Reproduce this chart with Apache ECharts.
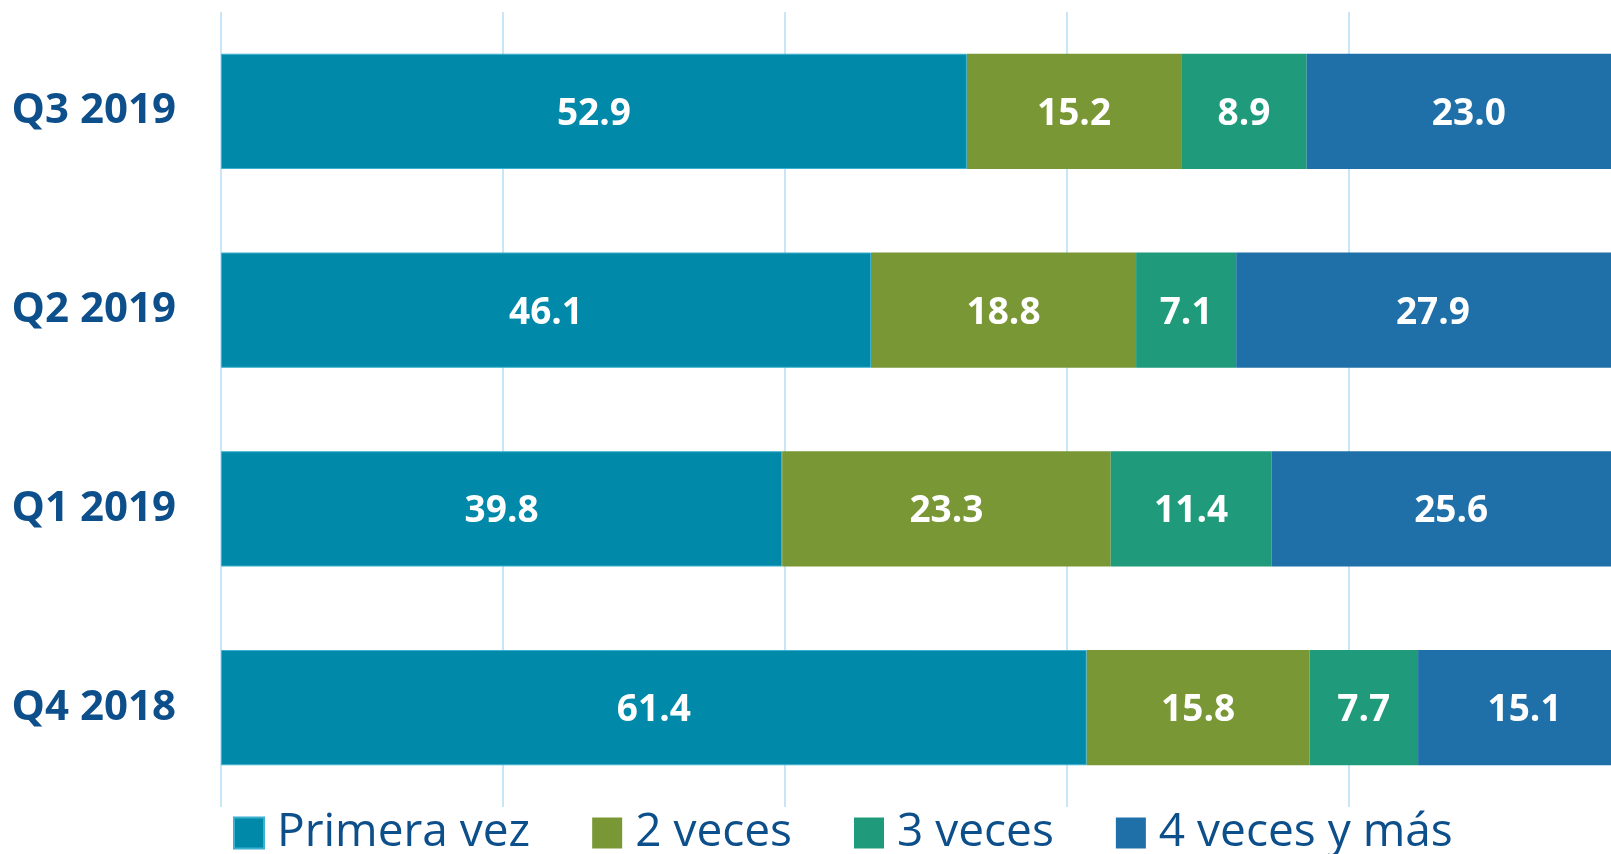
<!DOCTYPE html>
<html>
<head>
<meta charset="utf-8">
<script src="https://cdn.jsdelivr.net/npm/echarts@6/dist/echarts.min.js"></script>
<style>
html, body { margin: 0; padding: 0; background: #fff; }
#main { width: 1611px; height: 854px; }
</style>
</head>
<body>
<div id="main"></div>
<script>
var categories = ['Q3 2019', 'Q2 2019', 'Q1 2019', 'Q4 2018'];
var seriesNames = ['Primera vez', '2 veces', '3 veces', '4 veces y más'];
var primeraVez = [52.9, 46.1, 39.8, 61.4];
var dosVeces = [15.2, 18.8, 23.3, 15.8];
var tresVeces = [8.9, 7.1, 11.4, 7.7];
var cuatroVeces = [23.0, 27.9, 25.6, 15.1];
var colors = ['#0089a8', '#7a9735', '#1f9b7b', '#1f70a8'];

var values = [primeraVez, dosVeces, tresVeces, cuatroVeces];
var series = [];
for (var i = 0; i < seriesNames.length; i++) {
	series.push({
		name: seriesNames[i],
		type: 'bar',
		stack: 'total',
		barWidth: '58%',
		data: values[i],
		itemStyle: {
			color: colors[i],
			borderColor: i == 0 ? '#3cb0cf' : colors[i],
			borderWidth: i == 0 ? 1 : 0
		},
		label: {
			show: true,
			position: 'inside',
			offset: [0, 3],
			color: '#fff',
			fontFamily: 'Open Sans',
			fontWeight: 'bold',
			fontSize: 37,
			formatter: function (p) {
				return p.value.toFixed(1);
			}
		}
	});
}

var chart = echarts.init(document.getElementById('main'), null, { renderer: 'canvas' });
var option = {
	animation: false,
	grid: {
		left: 221,
		top: 12,
		width: 1410,
		height: 795,
		outerBoundsMode: 'none'
	},
	legend: {
		left: 228,
		top: 805,
		itemWidth: 30,
		itemHeight: 31,
		itemGap: 62,
		icon: 'rect',
		textStyle: {
			fontFamily: 'Open Sans',
			fontSize: 46,
			color: '#0d4f8a',
			padding: [0, 0, 0, 8]
		},
		data: seriesNames
	},
	xAxis: {
		type: 'value',
		min: 0,
		max: 100,
		interval: 20,
		axisLabel: { show: false },
		axisLine: { show: false },
		axisTick: { show: false },
		splitLine: {
			show: true,
			lineStyle: { color: '#c9e6f8', width: 2 }
		}
	},
	yAxis: {
		type: 'category',
		inverse: true,
		data: categories,
		axisLine: { show: false },
		axisTick: { show: false },
		axisLabel: {
			margin: 45,
			padding: [6, 0, 0, 0],
			color: '#0d4f8a',
			fontFamily: 'Open Sans',
			fontWeight: 'bold',
			fontSize: 42
		}
	},
	series: series
};
chart.setOption(option);
</script>
</body>
</html>
